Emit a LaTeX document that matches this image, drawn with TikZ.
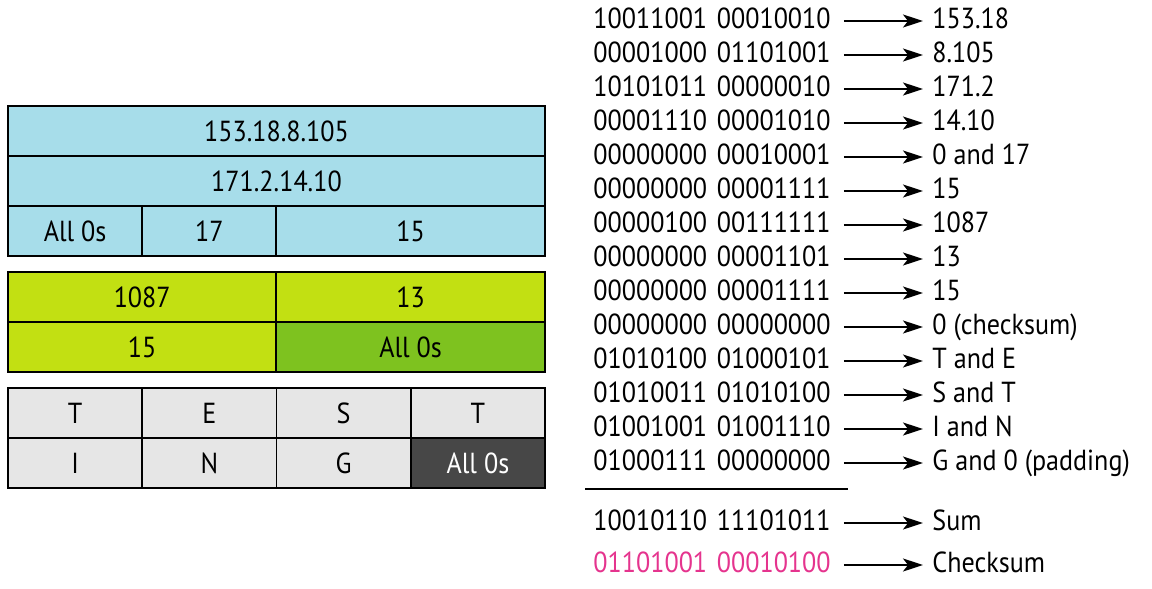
\documentclass[tikz,border=0pt]{standalone}
\usepackage{fontspec}
\setmainfont{PT Sans}[FakeStretch=0.9]
\usepackage{tikz}
\usetikzlibrary{arrows.meta}
\usetikzlibrary{positioning}
\definecolor{ipblue}{HTML}{A7DDEA}
\definecolor{udplime}{HTML}{C2E012}
\definecolor{udpgreen}{HTML}{7EC21F}
\definecolor{datagray}{HTML}{E6E6E6}
\definecolor{paddark}{HTML}{474747}
\definecolor{sumpink}{HTML}{E5348E}
\tikzstyle{every node}+=[inner sep=0pt]
\tikzstyle{cell} = [rectangle, draw, line width=0.9pt, font=\fontsize{14.5}{16}\selectfont, minimum height=25pt, minimum width=67.1pt]
\tikzstyle{word} = [font=\fontsize{14.5}{16}\selectfont, text width=119.5pt, align=left, anchor=west, text height=10pt, text depth=3pt]
\tikzstyle{meaning} = [font=\fontsize{14.5}{16}\selectfont, anchor=west, text height=10pt, text depth=3pt]
\tikzstyle{line} = [draw, line width=0.9pt, -{Stealth[length=10pt, width=6.5pt, inset=2.5pt]}, shorten <=5.5pt, shorten >=4.5pt]

\begin{document}
\begin{tikzpicture}[x=0.5pt, y=-0.5pt]
            \useasboundingbox (0,0) rectangle (1152,589);
            % Pseudoheader
            \node [cell, fill=ipblue, minimum width=268.5pt] (src) at (276.5,131) {153.18.8.105};
            \node [cell, fill=ipblue, minimum width=268.5pt] (dst) at (276.5,181) {171.2.14.10};
            \node [cell, fill=ipblue] (zero) at (75.1,231) {All 0s};
            \node [cell, fill=ipblue] (proto) at (209.4,231) {17};
            \node [cell, fill=ipblue, minimum width=134.25pt] (len) at (410.6,231) {15};
            % Header
            \node [cell, fill=udplime, minimum width=134.25pt] (sport) at (142.2,297) {1087};
            \node [cell, fill=udplime, minimum width=134.25pt] (dport) at (410.6,297) {13};
            \node [cell, fill=udplime, minimum width=134.25pt] (ulen) at (142.2,347) {15};
            \node [cell, fill=udpgreen, minimum width=134.25pt] (csum) at (410.6,347) {All 0s};
            % Data
            \node [cell, fill=datagray] (dT) at (75.1,413) {T};
            \node [cell, fill=datagray] (dE) at (209.4,413) {E};
            \node [cell, fill=datagray] (dS) at (343.6,413) {S};
            \node [cell, fill=datagray] (dT2) at (477.9,413) {T};
            \node [cell, fill=datagray] (dI) at (75.1,463) {I};
            \node [cell, fill=datagray] (dN) at (209.4,463) {N};
            \node [cell, fill=datagray] (dG) at (343.6,463) {G};
            \node [cell, fill=paddark, text=white] (dpad) at (477.9,463) {All 0s};
            % Words and their meaning
            \foreach \bits/\what [count=\i] in {10011001\ 00010010/153.18, 00001000\ 01101001/8.105,
                10101011\ 00000010/171.2, 00001110\ 00001010/14.10, 00000000\ 00010001/0 and 17,
                00000000\ 00001111/15, 00000100\ 00111111/1087, 00000000\ 00001101/13,
                00000000\ 00001111/15, 00000000\ 00000000/0 (checksum), 01010100\ 01000101/T and E,
                01010011\ 01010100/S and T, 01001001\ 01001110/I and N, 01000111\ 00000000/G and 0 (padding)}
            {
                \node [word] (b\i) at (593,{21+34*(\i-1)}) {\bits};
                \node [meaning] (m\i) at (932,{21+34*(\i-1)}) {\what};
                \path [line] (b\i) -- (m\i);
            }
            \draw [line width=1pt] (585,489) -- (848,489);
            \node [word] (bsum) at (593,523) {10010110\ 11101011};
            \node [meaning] (msum) at (932,523) {Sum};
            \node [word, text=sumpink] (bcsum) at (593,565) {01101001\ 00010100};
            \node [meaning] (mcsum) at (932,565) {Checksum};
            \path [line] (bsum) -- (msum);
            \path [line] (bcsum) -- (mcsum);
\end{tikzpicture}
\end{document}
